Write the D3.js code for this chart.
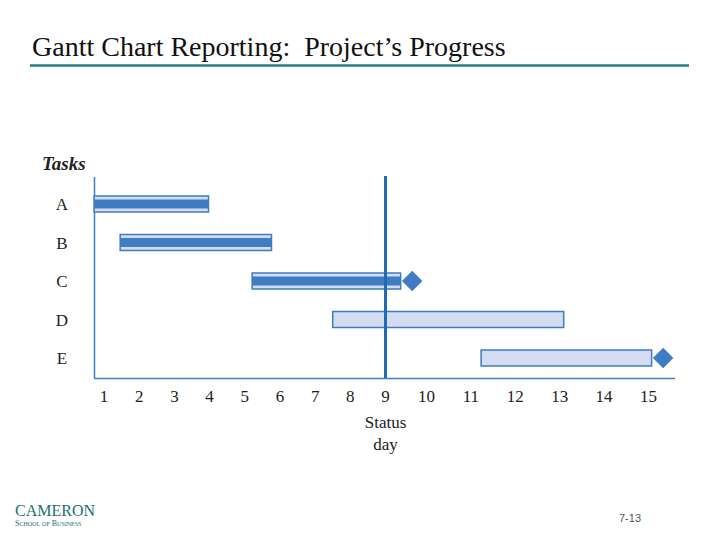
<!DOCTYPE html>
<html><head><meta charset="utf-8">
<script src="https://cdn.jsdelivr.net/npm/d3@7"></script>
<style>body{margin:0;background:#fff}svg{display:block}</style>
</head><body><svg id="c" width="720" height="540"></svg>
<script>
const tasks = ["A","B","C","D","E"];
const starts = [0.72, 1.46, 5.21, 7.5, 11.23];
const ends = [3.97, 5.76, 9.37, 13.09, 15.07];
const progressEnds = [3.97, 5.76, 9.37, null, null];
const milestones = [{task:"C", day:9.37}, {task:"E", day:15.07}];
const dayTicks = [1,2,3,4,5,6,7,8,9,10,11,12,13,14,15];
const statusDay = 9;

const svg = d3.select("#c");
const serif = "'Liberation Serif','Times New Roman',serif";

// title
svg.append("text").attr("x",32).attr("y",56).attr("font-family",serif).attr("font-size",28)
  .attr("fill","#111").style("white-space","pre")
  .text("Gantt Chart Reporting:  Project\u2019s Progress");
svg.append("line").attr("x1",30).attr("x2",689).attr("y1",65.5).attr("y2",65.5)
  .attr("stroke","#2a7f86").attr("stroke-width",2.5);

const x = d3.scaleLinear().domain([1,9,10,15]).range([104,385.5,426.5,648.5]);
const y = d3.scalePoint().domain(tasks).range([204,358]);
const barH = 16, innerH = 9;

// axes lines
svg.append("line").attr("x1",94.5).attr("x2",94.5).attr("y1",177).attr("y2",378.5)
  .attr("stroke","#3d7fc0").attr("stroke-width",1.5);
svg.append("line").attr("x1",94).attr("x2",675).attr("y1",378.5).attr("y2",378.5)
  .attr("stroke","#3d7fc0").attr("stroke-width",1.5);

svg.append("text").attr("x",42).attr("y",170).attr("font-family",serif).attr("font-size",19)
  .attr("font-weight","bold").attr("font-style","italic").attr("fill","#222").text("Tasks");

// task labels
svg.selectAll("text.tl").data(tasks).join("text").attr("class","tl")
  .attr("x",62).attr("y",d=>y(d)+6).attr("text-anchor","middle")
  .attr("font-family",serif).attr("font-size",17).attr("fill","#222").text(d=>d);

// tick labels
svg.selectAll("text.tk").data(dayTicks).join("text").attr("class","tk")
  .attr("x",d=>x(d)).attr("y",402).attr("text-anchor","middle")
  .attr("font-family",serif).attr("font-size",17).attr("fill","#222").text(d=>d);

svg.append("text").attr("x",x(statusDay)).attr("y",428).attr("text-anchor","middle")
  .attr("font-family",serif).attr("font-size",17).attr("fill","#222").text("Status");
svg.append("text").attr("x",x(statusDay)).attr("y",450).attr("text-anchor","middle")
  .attr("font-family",serif).attr("font-size",17).attr("fill","#222").text("day");

// bars
svg.selectAll("rect.bar").data(tasks).join("rect").attr("class","bar")
  .attr("x",(d,i)=>x(starts[i])).attr("width",(d,i)=>x(ends[i])-x(starts[i]))
  .attr("y",d=>y(d)-barH/2).attr("height",barH)
  .attr("fill","#d3dcf1").attr("stroke","#3f7cc0").attr("stroke-width",1.5);

// progress
const prog = tasks.map((t,i)=>({t, s:starts[i], e:progressEnds[i]})).filter(d=>d.e!=null);
svg.selectAll("rect.prog").data(prog).join("rect").attr("class","prog")
  .attr("x",d=>x(d.s)).attr("width",d=>x(d.e)-x(d.s))
  .attr("y",d=>y(d.t)-innerH/2).attr("height",innerH).attr("fill","#3f7cc4");

// milestones
svg.selectAll("path.ms").data(milestones).join("path").attr("class","ms")
  .attr("d",d3.symbol(d3.symbolSquare, 210))
  .attr("transform",d=>`translate(${x(d.day)+11.5},${y(d.task)}) rotate(45)`)
  .attr("fill","#3f7cc4");

// status line
svg.append("line").attr("x1",x(statusDay)).attr("x2",x(statusDay)).attr("y1",176).attr("y2",378)
  .attr("stroke","#1f6cb4").attr("stroke-width",3);

// footer
svg.append("text").attr("x",15).attr("y",516).attr("font-family",serif).attr("font-size",16)
  .attr("fill","#1d6f70").text("CAMERON");
svg.append("text").attr("x",15).attr("y",526).attr("font-family",serif).attr("font-size",8)
  .attr("fill","#1d6f70").style("font-variant","small-caps").text("School of Business");
svg.append("text").attr("x",630).attr("y",522).attr("text-anchor","middle")
  .attr("font-family","'Liberation Sans',Arial,sans-serif").attr("font-size",11).attr("fill","#555").text("7-13");
</script></body></html>
